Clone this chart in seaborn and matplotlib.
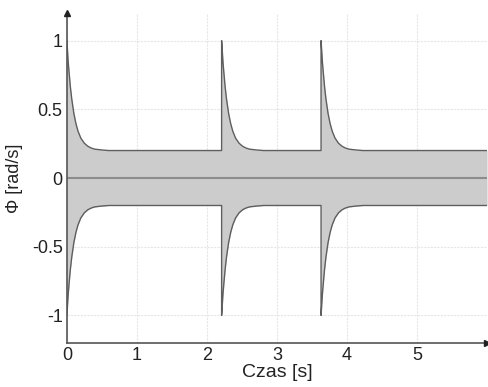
import matplotlib
matplotlib.use("Agg")
import matplotlib.pyplot as plt
import seaborn as sns
import numpy as np
import pandas as pd

# Data
spike_times = [0.0, 2.21, 3.63]
decay_dt = [0.0, 0.01, 0.02, 0.03, 0.05, 0.07, 0.10, 0.13, 0.16, 0.20, 0.25, 0.30, 0.35, 0.40, 0.50, 0.60]
decay_amp = [1.0, 0.92, 0.84, 0.78, 0.665, 0.575, 0.47, 0.395, 0.34, 0.29, 0.253, 0.231, 0.218, 0.21, 0.204, 0.20]
base_level = 0.2
t_end = 6.0
x_ticks = [0, 1, 2, 3, 4, 5]
y_ticks = [-1, -0.5, 0, 0.5, 1]
y_ticklabels = ["-1", "-0.5", "0", "0.5", "1"]

# build envelope
t_list, env_list = [], []
for s in spike_times:
    if s > 0:
        t_list.append(s)
        env_list.append(base_level)
    for d, a in zip(decay_dt, decay_amp):
        t_list.append(s + d)
        env_list.append(a)
t_list.append(t_end)
env_list.append(base_level)
df = pd.DataFrame({"t": t_list, "upper": env_list, "lower": [-v for v in env_list]})

sns.set_theme(style="white")
plt.rcParams['font.family'] = ['Liberation Sans', 'DejaVu Sans']

fig = plt.figure(figsize=(4.88, 3.87), dpi=100)
ax = fig.add_axes([0.137, 0.114, 0.861, 0.852])

ax.fill_between(df["t"], df["lower"], df["upper"], color="#cccccc", lw=0, zorder=2)
sns.lineplot(data=df, x="t", y="upper", sort=False, estimator=None, color="#5e5e5e", lw=1.0, ax=ax, zorder=3)
sns.lineplot(data=df, x="t", y="lower", sort=False, estimator=None, color="#5e5e5e", lw=1.0, ax=ax, zorder=3)
ax.axhline(0, color="#8c8c8c", lw=1.5, zorder=3)

ax.set_xlim(0, 6)
ax.set_ylim(-1.2, 1.2)
ax.set_xticks(x_ticks)
ax.set_yticks(y_ticks)
ax.set_yticklabels(y_ticklabels)
ax.grid(True, color="#e6e6e6", lw=0.8, linestyle=(0, (2, 1)), zorder=0)
ax.set_axisbelow(True)

for side in ["top", "right"]:
    ax.spines[side].set_visible(False)
for side in ["left", "bottom"]:
    ax.spines[side].set_color("#555555")
    ax.spines[side].set_linewidth(1.2)
    ax.spines[side].set_zorder(4)

ax.tick_params(direction="in", length=3, width=0.8, color="#555555", labelsize=13, labelcolor="#222222", pad=3)
ax.set_xlabel("Czas [s]", fontsize=14, color="#222222", labelpad=0)
ax.set_ylabel("Φ [rad/s]", fontsize=13, color="#222222", labelpad=6)

ax.plot(1, 0, ">", color="#222222", markersize=5, transform=ax.transAxes, clip_on=False, zorder=5)
ax.plot(0, 1, "^", color="#222222", markersize=5, transform=ax.transAxes, clip_on=False, zorder=5)

fig.savefig("out.png", dpi=100)
